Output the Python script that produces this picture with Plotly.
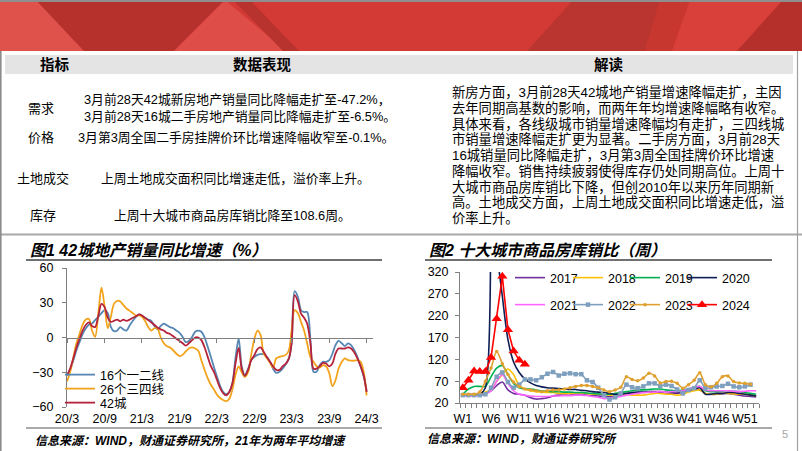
import plotly.graph_objects as go
import pandas as pd

W, H = 802, 451
FONT = "Liberation Sans, Noto Sans CJK SC, sans-serif"


def px(x):
    return x / W


def py(y):
    return 1 - y / H


# ---------------- Chart 1 data (half-month samples, 2020/3 .. 2024/3) ----------------
_months = pd.date_range("2020-03-01", "2024-03-01", freq="MS")
dates1 = []
for _m in _months:
    dates1.append(_m.strftime("%Y-%m-01"))
    if _m < _months[-1]:
        dates1.append(_m.strftime("%Y-%m-16"))

tier12 = [-32.5, -28, -19.6, -11, -4, 3, 8, 11, 12, 15, 18, 21, 23.6, 21, 9, 5.5, 6, 9, 7, 6,
          10.6, 14.4, 18, 20, 19, 17, 15.5, 14.4, 10, 7, 10, 12, 10.6, 9, 8, 6, 4, 0.5, -4, -3,
          0.5, 5, 6, 5, 0, -8, -17, -26, -33, -41, -47, -49, -47, -40, -17, -1, -25, -32.5, -27, -19.6,
          -16.7, -15, -14.4, -14.4, -17, -21, -27, -30.5, -29.6, -27, -23, -18, -5, 40, 35, 23.6, 22, 22, -2.3, -29.6,
          -29.6, -24, -21, -21, -19.6, -14, -6.6, -3, -5, -7.5, -5, -6.6, -11, -17, -25, -34, -46]
tier34 = [-38, -30, -17, -5, 3, 11, 15.5, 16, 6, 0.5, 21, 43, 26, 8, 18, 29, 31.7, 31, 28, 25,
          23, 21, 19, 19, 18, 14.4, 9, 6, 8, 8, 0, -5, -7.5, -8.6, -11, -14, -16, -15, -12, -9.5,
          -8.6, -9.5, -11.5, -19.6, -28, -35, -41, -45, -49, -52, -54, -55, -53, -45, -32, -25, -30, -34, -30, -15,
          -1, 6, 2, -14, -18, -22, -26, -18, -16.7, -16, -15, -11, 6, 23.6, 21, 13.5, 6, -5, -17, -21,
          -24.8, -26, -24, -24.8, -31, -42, -37, -27, -21, -18, -19.6, -20, -20, -19.6, -21, -30, -50]
city42 = [-32.5, -27, -18, -8.6, -1, 6, 11, 13, 10, 9, 19, 29, 26, 17, 13.5, 14.4, 15.5, 14, 15.5, 14.4,
          15.5, 17, 18.4, 20, 19, 17, 15, 13, 11, 8.6, 7, 6, 4, 3, 1, -1, -3, -5, -7, -5,
          -2.3, 0, 0, -2.3, -8.6, -16.7, -25, -30, -36, -43, -48, -50, -47, -40, -22, -9, -27, -33, -28, -19.6,
          -15, -10, -8.6, -12.4, -17, -21, -25, -28, -28, -25, -22.5, -18, -5, 36.5, 31, 20.7, 17, 12, -5, -27,
          -26.8, -24.8, -22, -22.5, -25, -22.5, -14, -9.5, -9.5, -9.5, -8.6, -9.5, -13, -18, -25, -33, -47.2]

x1_tickvals = ["2020-03-01", "2020-09-01", "2021-03-01", "2021-09-01", "2022-03-01",
               "2022-09-01", "2023-03-01", "2023-09-01", "2024-03-01"]
x1_ticktext = ["20/3", "20/9", "21/3", "21/9", "22/3", "22/9", "23/3", "23/9", "24/3"]
y1_ticks = [-60, -30, 0, 30, 60]

# ---------------- Chart 2 data (weekly) ----------------
weeks = list(range(1, 54))
y2017 = [38, 38, 38, 40, 42, 48, 60, 68, 50, 42, 40, 38,
         32, 29, 30, 32, 36, 38, 38, 38, 40, 40, 38, 37, 36, 35,
         35, 36, 38, 40, 42, 44, 44, 45, 45, 44, 43, 42, 42, 44,
         48, 52, 50, 42, 40, 40, 41, 42, 40, 38, 36, 35, 34]
y2018 = [40, 40, 40, 42, 45, 50, 70, 85, 98, 85, 60, 52,
         48, 46, 45, 44, 44, 42, 42, 42, 43, 43, 42, 40, 40, 40,
         38, 38, 40, 40, 38, 38, 38, 40, 42, 42, 40, 40, 38, 40,
         45, 48, 50, 42, 40, 40, 42, 42, 41, 40, 40, 38, 37]
y2019 = [40, 52, 58, 58, 58, 80, 100, 106, 85, 65, 55, 52,
         52, 50, 48, 47, 46, 46, 45, 45, 44, 44, 43, 42, 41, 40,
         40, 42, 44, 46, 48, 50, 50, 51, 52, 52, 50, 49, 48, 50,
         52, 55, 58, 48, 46, 46, 47, 48, 47, 46, 44, 42, 40]
y2020 = [38, 38, 38, 40, 55, 900, 380, 265, 165, 114, 90, 75,
         66, 60, 57, 55, 54, 53, 52, 51, 51, 49, 48, 46, 45, 44,
         42, 40, 40, 42, 44, 45, 45, 46, 46, 46, 45, 45, 44, 46,
         50, 52, 55, 40, 40, 42, 42, 44, 44, 42, 40, 38, 36]
y2021 = [36, 36, 36, 38, 40, 48, 70, 85, 65, 48, 40, 38,
         36, 35, 35, 35, 36, 36, 37, 37, 38, 38, 37, 35, 33, 30,
         32, 33, 35, 38, 40, 42, 44, 45, 45, 46, 45, 46, 46, 48,
         52, 56, 58, 50, 48, 48, 48, 48, 47, 46, 47, 48, 48]
y2022 = [38, 38, 38, 38, 40, 55, 80, 90, 68, 55, 62, 74,
         74, 72, 79, 87, 91, 83, 87, 88, 86, 86, 72, 68, 55, 38,
         28, 33, 42, 62, 56, 54, 58, 65, 65, 59, 62, 59, 51, 42,
         50, 54, 72, 54, 56, 58, 59, 64, 58, 56, 58, 62]
y2023 = [40, 40, 40, 45, 70, 100, 138, 110, 85, 68, 58, 52,
         50, 48, 46, 48, 50, 50, 52, 55, 58, 60, 60, 58, 55, 50,
         46, 50, 56, 80, 74, 71, 77, 88, 82, 66, 69, 70, 65, 54,
         62, 72, 89, 62, 57, 65, 80, 82, 69, 66, 65, 63]
y2024 = [55, 72, 93, 92, 92, 124, 213, 310, 188, 139, 118, 108.6]

x2_tickvals = [1, 6, 11, 16, 21, 26, 31, 36, 41, 46, 51]
x2_ticktext = ["W1", "W6", "W11", "W16", "W21", "W26", "W31", "W36", "W41", "W46", "W51"]
y2_ticks = [20, 70, 120, 170, 220, 270, 320]

fig = go.Figure()

# ---- chart 1 traces ----
c1 = [("16个一二线", tier12, "#5687B4", "legend"),
      ("26个三四线", tier34, "#F2A31B", "legend2"),
      ("42城", city42, "#B5233A", "legend3")]
for name, vals, col, lg in c1:
    fig.add_trace(go.Scatter(x=dates1, y=vals, name=name, mode="lines",
                             line=dict(color=col, width=1.8, shape="spline", smoothing=0.9),
                             xaxis="x", yaxis="y", legend=lg, hoverinfo="skip", showlegend=True))

# ---- chart 2 traces ----
c2 = [("2017", y2017, "#7030A0", dict(mode="lines"), "legend4"),
      ("2018", y2018, "#FFC000", dict(mode="lines"), "legend5"),
      ("2019", y2019, "#00B050", dict(mode="lines"), "legend6"),
      ("2020", y2020, "#0F1F55", dict(mode="lines"), "legend7"),
      ("2021", y2021, "#FF66FF", dict(mode="lines"), "legend8"),
      ("2022", y2022, "#7F9FBF", dict(mode="lines+markers", marker=dict(symbol="square", size=4.5, color="#7F9FBF")), "legend9"),
      ("2023", y2023, "#E0A030", dict(mode="lines+markers", marker=dict(symbol="circle", size=3.5, color="#E0A030")), "legend10"),
      ("2024", y2024, "#FF0000", dict(mode="lines+markers", marker=dict(symbol="triangle-up", size=9, color="#FF0000")), "legend11")]
for name, vals, col, extra, lg in c2:
    shape = "linear" if name == "2024" else "spline"
    fig.add_trace(go.Scatter(x=weeks[:len(vals)], y=vals, name=name,
                             line=dict(color=col, width=1.6, shape=shape, smoothing=0.8),
                             xaxis="x2", yaxis="y2", legend=lg, hoverinfo="skip", showlegend=True, **extra))

# ---------------- axes ----------------
ax_col = "#808080"
y1_dom = [py(407), py(268)]
zero_pos = y1_dom[0] + (0 - (-60)) / 120 * (y1_dom[1] - y1_dom[0])
tickfont = dict(family=FONT, size=12.5, color="#000000")

fig.update_layout(
    template="none",
    width=W, height=H, margin=dict(l=0, r=0, t=0, b=0, autoexpand=False),
    showlegend=True,
    paper_bgcolor="white", plot_bgcolor="rgba(0,0,0,0)",
    font=dict(family=FONT, color="#000000"),
    xaxis=dict(domain=[px(67), px(373)], anchor="free", position=zero_pos, type="date",
               range=["2020-03-01", "2024-04-01"], tickmode="array", automargin=False,
               tickvals=x1_tickvals, ticktext=x1_ticktext, showgrid=False, zeroline=False,
               showline=True, linecolor=ax_col, linewidth=1, ticks="outside", ticklen=4,
               tickcolor=ax_col, tickfont=tickfont, ticklabelstandoff=65),
    yaxis=dict(domain=y1_dom, anchor="x", position=px(67), range=[-60, 60], tickmode="array",
               tickvals=y1_ticks, automargin=False,
               showgrid=False, zeroline=False, showline=True, linecolor=ax_col, linewidth=1,
               ticks="outside", ticklen=4, tickcolor=ax_col, tickfont=tickfont, ticklabelstandoff=6),
    xaxis2=dict(domain=[px(460), px(759)], anchor="y2", range=[0.5, 53.5], tickmode="array",
                tickvals=x2_tickvals, ticktext=x2_ticktext, showgrid=False, zeroline=False,
                showline=True, linecolor=ax_col, linewidth=1, ticks="", automargin=False,
                minor=dict(tick0=0.5, dtick=1, ticks="outside", ticklen=4, tickcolor=ax_col, showgrid=False),
                tickfont=tickfont, ticklabelstandoff=4),
    yaxis2=dict(domain=[py(403), py(272)], anchor="x2", range=[20, 320], tickmode="array",
                tickvals=y2_ticks, showgrid=False, zeroline=False, showline=True, linecolor=ax_col,
                linewidth=1, ticks="outside", ticklen=4, tickcolor=ax_col, tickfont=tickfont,
                ticklabelstandoff=4, automargin=False),
)

# ---------------- legends (one per entry for exact placement) ----------------
leg_font = dict(family=FONT, size=12.5, color="#000000")


def leg(xp, yp):
    return dict(x=px(xp), y=py(yp), xanchor="left", yanchor="middle", bgcolor="rgba(0,0,0,0)",
                borderwidth=0, font=leg_font, itemwidth=30, orientation="v")


fig.update_layout(
    legend=leg(60, 375), legend2=leg(60, 389), legend3=leg(60, 403),
    legend4=leg(510, 278), legend5=leg(568, 278), legend6=leg(625, 278), legend7=leg(682, 278),
    legend8=leg(510, 305), legend9=leg(568, 305), legend10=leg(625, 305), legend11=leg(682, 305),
)

# ---------------- decorative shapes ----------------
shapes = []


def poly(pts, fill):
    path = "M " + " L ".join(f"{px(x):.5f},{py(y):.5f}" for x, y in pts) + " Z"
    shapes.append(dict(type="path", path=path, xref="paper", yref="paper", fillcolor=fill,
                       line=dict(width=0), layer="below"))


def hline(y, x0, x1, col, w):
    shapes.append(dict(type="line", xref="paper", yref="paper", x0=px(x0), x1=px(x1), y0=py(y), y1=py(y),
                       line=dict(color=col, width=w)))


def vline(x, y0, y1, col, w):
    shapes.append(dict(type="line", xref="paper", yref="paper", x0=px(x), x1=px(x), y0=py(y0), y1=py(y1),
                       line=dict(color=col, width=w)))


# banner
poly([(0, 0), (802, 0), (802, 51), (0, 51)], "#D33A35")
poly([(0, 0), (36, 0), (84, 51), (0, 51)], "#DF524C")
poly([(36, 0), (225, 0), (174, 51), (84, 51)], "#B7312C")
poly([(174, 51), (225, 0), (286, 51)], "#DE4D48")
poly([(233, 0), (250, 0), (299, 51), (283, 51)], "#B9332E")
poly([(573, 0), (660, 0), (645, 51), (527, 51)], "#BA3530")
poly([(660, 0), (690, 0), (672, 51), (645, 51)], "#C7362F")
poly([(690, 0), (783, 0), (737, 51), (672, 51)], "#D9403A")
poly([(783, 0), (802, 0), (802, 51), (737, 51)], "#B5302B")
poly([(0, 0), (802, 0), (802, 2), (0, 2)], "#8E8E8E")
# table header
poly([(5, 55), (793, 55), (793, 74), (5, 74)], "#E4E4E4")
hline(234.5, 0, 802, "#A8A8A8", 2)
vline(0.8, 51, 451, "#8C8C8C", 1.6)
vline(797.5, 51, 451, "#A0A0A0", 1.2)
# chart frames
hline(260, 26, 382, "#404040", 1.5)
hline(428, 26, 382, "#8C8C8C", 1.5)
hline(260, 425, 772, "#404040", 1.5)
hline(428, 425, 772, "#8C8C8C", 1.5)
fig.update_layout(shapes=shapes)

# ---------------- texts ----------------
ann = []


def text(t, x, y, size=13, anchor="left", bold=False, italic=False, color="#000000"):
    s = t
    if italic:
        s = f"<i>{s}</i>"
    if bold:
        s = f"<b>{s}</b>"
    ann.append(dict(text=s, x=px(x), y=py(y), xref="paper", yref="paper", xanchor=anchor,
                    yanchor="middle", showarrow=False,
                    font=dict(family=FONT, size=size, color=color)))


text("指标", 55, 64.5, 14.5, "center", bold=True)
text("数据表现", 262, 64.5, 14.5, "center", bold=True)
text("解读", 609, 64.5, 14.5, "center", bold=True)

text("需求", 41, 108, 13, "center")
text("3月前28天42城新房地产销量同比降幅走扩至-47.2%，", 82, 100, 12.8)
text("3月前28天16城二手房地产销量同比降幅走扩至-6.5%。", 82, 116, 12.8)
text("价格", 41, 138, 13, "center")
text("3月第3周全国二手房挂牌价环比增速降幅收窄至-0.1%。", 76, 138, 12.8)
text("土地成交", 43, 178, 13, "center")
text("上周土地成交面积同比增速走低，溢价率上升。", 235, 178, 12.8, "center")
text("库存", 43, 215, 13, "center")
text("上周十大城市商品房库销比降至108.6周。", 232, 215, 12.8, "center")

right_lines = [
    "新房方面，3月前28天42城地产销量增速降幅走扩，主因",
    "去年同期高基数的影响，而两年年均增速降幅略有收窄。",
    "具体来看，各线级城市销量增速降幅均有走扩，三四线城",
    "市销量增速降幅走扩更为显著。二手房方面，3月前28天",
    "16城销量同比降幅走扩，3月第3周全国挂牌价环比增速",
    "降幅收窄。销售持续疲弱使得库存仍处同期高位。上周十",
    "大城市商品房库销比下降，但创2010年以来历年同期新",
    "高。土地成交方面，上周土地成交面积同比增速走低，溢",
    "价率上升。",
]
for i, ln in enumerate(right_lines):
    text(ln, 450, 92 + i * 15.75, 13.3)

text("图1 42城地产销量同比增速（%）", 28, 250, 16, bold=True, italic=True)
text("图2 十大城市商品房库销比（周）", 427, 250, 16, bold=True, italic=True)
text("信息来源：WIND，财通证券研究所，21年为两年平均增速", 33, 441, 12, bold=True, italic=True)
text("信息来源：WIND，财通证券研究所", 425, 439, 12, bold=True, italic=True)
text("5", 785, 434, 11, "center", color="#A6A6A6")

fig.update_layout(annotations=ann)

fig.write_html("out.html")
